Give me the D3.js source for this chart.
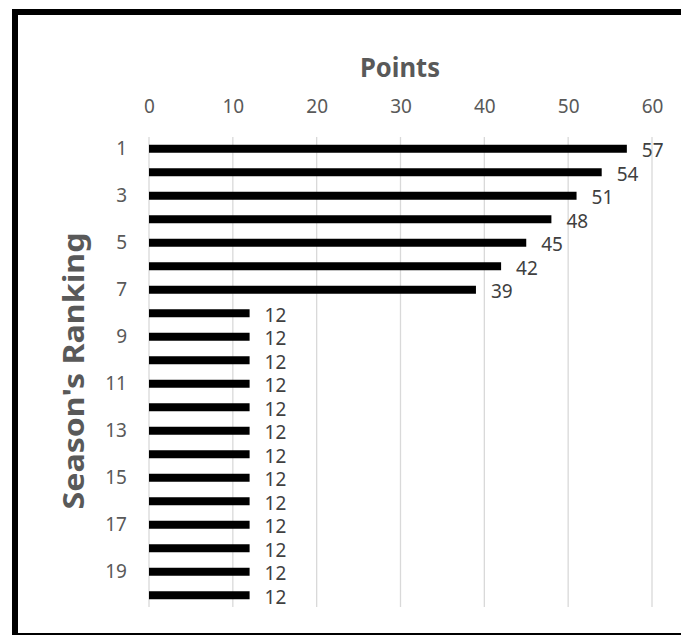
<!DOCTYPE html>
<html>
<head>
<meta charset="utf-8">
<script src="https://cdn.jsdelivr.net/npm/d3@7"></script>
<style>
  html, body { margin: 0; padding: 0; background: #fff; }
  svg { display: block; }
</style>
</head>
<body>
<script>
// Points earned per season ranking
const rankings = d3.range(1, 21);
const points = [57, 54, 51, 48, 45, 42, 39, 12, 12, 12, 12, 12, 12, 12, 12, 12, 12, 12, 12, 12];
const pointTicks = [0, 10, 20, 30, 40, 50, 60];
const rankTickLabels = [1, 3, 5, 7, 9, 11, 13, 15, 17, 19];

const W = 681, H = 635;
const font = "'Noto Sans', 'Open Sans', sans-serif";

const svg = d3.select("body").append("svg")
  .attr("width", W).attr("height", H);

svg.append("rect").attr("width", W).attr("height", H).attr("fill", "#fff");

// Chart frame (runs past the right and bottom edges)
svg.append("rect")
  .attr("x", 15).attr("y", 12)
  .attr("width", 700).attr("height", 624)
  .attr("fill", "none").attr("stroke", "#000").attr("stroke-width", 6);

const x = d3.scaleLinear().domain([0, 60]).range([149, 652]);
const y = d3.scaleBand().domain(rankings).range([137, 607]).paddingInner(0.66).paddingOuter(0.33);

// Vertical gridlines
svg.append("g").selectAll("line").data(pointTicks).join("line")
  .attr("x1", d => x(d)).attr("x2", d => x(d))
  .attr("y1", 137).attr("y2", 607)
  .attr("stroke", "#d9d9d9").attr("stroke-width", 1.3);

// Top axis labels
const xAxis = d3.axisTop(x).tickValues(pointTicks).tickSize(0).tickPadding(0);
const gx = svg.append("g").attr("transform", "translate(0,113)").call(xAxis);
gx.select(".domain").remove();
gx.selectAll("text")
  .attr("font-family", font).attr("font-size", 19)
  .attr("fill", "#595959");

// Left axis labels (odd rankings only)
const yAxis = d3.axisLeft(y).tickValues(rankTickLabels).tickSize(0).tickPadding(22);
const gy = svg.append("g").attr("transform", "translate(149,0)").call(yAxis);
gy.select(".domain").remove();
gy.selectAll("text")
  .attr("font-family", font).attr("font-size", 19)
  .attr("fill", "#595959");

// Bars
svg.append("g").selectAll("rect").data(points).join("rect")
  .attr("x", x(0))
  .attr("y", (d, i) => y(rankings[i]))
  .attr("width", d => x(d) - x(0))
  .attr("height", y.bandwidth())
  .attr("fill", "#000");

// Value labels
svg.append("g").selectAll("text").data(points).join("text")
  .attr("x", d => x(d) + 15)
  .attr("y", (d, i) => y(rankings[i]) + y.bandwidth() / 2 + 2)
  .attr("dy", "0.35em")
  .attr("font-family", font).attr("font-size", 19)
  .attr("fill", "#404040")
  .text(d => d);

// Axis titles
svg.append("text")
  .attr("x", 400).attr("y", 77)
  .attr("text-anchor", "middle")
  .attr("font-family", font).attr("font-size", 27).attr("font-weight", "bold")
  .attr("fill", "#595959")
  .attr("textLength", 80).attr("lengthAdjust", "spacingAndGlyphs")
  .text("Points");

svg.append("text")
  .attr("transform", "translate(84,371) rotate(-90)")
  .attr("text-anchor", "middle")
  .attr("font-family", font).attr("font-size", 28).attr("font-weight", "bold")
  .attr("fill", "#595959")
  .attr("textLength", 277).attr("lengthAdjust", "spacingAndGlyphs")
  .text("Season's Ranking");
</script>
</body>
</html>
